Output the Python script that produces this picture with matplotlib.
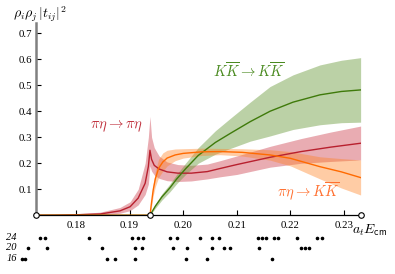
import matplotlib
matplotlib.use("Agg")
import matplotlib.pyplot as plt

plt.rcParams['font.family'] = ['Liberation Serif', 'DejaVu Serif']
plt.rcParams['mathtext.fontset'] = 'cm'

# energy window and K Kbar threshold
e_min, e_max = 0.17254, 0.23317
e_thr = 0.1938

# pi eta -> pi eta
red_E = [0.1726, 0.176, 0.180, 0.1845, 0.1882, 0.1901, 0.1916, 0.1929, 0.1935, 0.1938,
         0.1941, 0.1946, 0.1955, 0.197, 0.199, 0.2015, 0.2045, 0.2069, 0.210, 0.2162,
         0.222, 0.2275, 0.2331]
red_v = [0.0, 0.0005, 0.002, 0.005, 0.017, 0.033, 0.066, 0.123, 0.187, 0.250,
         0.215, 0.192, 0.178, 0.167, 0.162, 0.162, 0.168, 0.180, 0.195, 0.223,
         0.245, 0.262, 0.277]
red_lo = [0.0, 0.0, 0.0, 0.001, 0.008, 0.018, 0.040, 0.080, 0.120, 0.190,
          0.170, 0.155, 0.142, 0.133, 0.130, 0.132, 0.140, 0.148, 0.157, 0.185,
          0.200, 0.207, 0.213]
red_hi = [0.0, 0.002, 0.006, 0.012, 0.030, 0.052, 0.100, 0.200, 0.300, 0.380,
          0.300, 0.260, 0.228, 0.205, 0.195, 0.192, 0.197, 0.210, 0.228, 0.265,
          0.295, 0.320, 0.343]

# K Kbar -> K Kbar
green_E = [0.1726, 0.1938, 0.1948, 0.196, 0.1975, 0.1988, 0.2005, 0.2028, 0.206, 0.2088,
           0.2125, 0.2162, 0.2205, 0.2255, 0.2295, 0.2331]
green_v = [0.0, 0.0, 0.035, 0.070, 0.105, 0.140, 0.180, 0.230, 0.280, 0.315,
           0.360, 0.400, 0.435, 0.463, 0.476, 0.482]
green_lo = [0.0, 0.0, 0.027, 0.058, 0.090, 0.122, 0.158, 0.200, 0.235, 0.257,
            0.285, 0.305, 0.330, 0.348, 0.356, 0.358]
green_hi = [0.0, 0.0, 0.043, 0.082, 0.120, 0.158, 0.202, 0.260, 0.325, 0.373,
            0.435, 0.495, 0.540, 0.578, 0.596, 0.606]

# pi eta -> K Kbar
orange_E = [0.1726, 0.1938, 0.1941, 0.1944, 0.1948, 0.1954, 0.1962, 0.197, 0.1985, 0.2,
            0.2035, 0.2069, 0.211, 0.2162, 0.22, 0.2255, 0.2295, 0.2331]
orange_v = [0.0, 0.0, 0.050, 0.097, 0.140, 0.180, 0.205, 0.220, 0.232, 0.238,
            0.244, 0.245, 0.242, 0.232, 0.219, 0.187, 0.167, 0.145]
orange_lo = [0.0, 0.0, 0.035, 0.075, 0.110, 0.145, 0.170, 0.190, 0.210, 0.220,
             0.230, 0.233, 0.228, 0.212, 0.190, 0.140, 0.105, 0.078]
orange_hi = [0.0, 0.0, 0.065, 0.120, 0.170, 0.215, 0.240, 0.250, 0.255, 0.256,
             0.258, 0.257, 0.256, 0.252, 0.245, 0.225, 0.218, 0.213]

# finite-volume levels per lattice size L/a_s
levels = {
    '24': [0.17328, 0.17422, 0.18243, 0.19050, 0.19162, 0.19256, 0.19754, 0.19879, 0.20313,
           0.20532, 0.20659, 0.21396, 0.21470, 0.21545, 0.21694, 0.21769, 0.22118, 0.22491,
           0.22590],
    '20': [0.17099, 0.17451, 0.18479, 0.19101, 0.19226, 0.19815, 0.20076, 0.20541, 0.20765,
           0.20873, 0.21418, 0.22192, 0.22272, 0.22353],
    '16': [0.16987, 0.17054, 0.18573, 0.18728, 0.19101, 0.20058, 0.20439, 0.21660],
}

yticks = [0.1, 0.2, 0.3, 0.4, 0.5, 0.6, 0.7]
xticks = [0.18, 0.19, 0.20, 0.21, 0.22, 0.23]

fig = plt.figure(figsize=(3.95, 2.74), dpi=100)
ax = fig.add_axes([36 / 395, 1 - 215.3 / 274, 325 / 395, 192.5 / 274])

ax.fill_between(red_E, red_lo, red_hi, color='#c83040', alpha=0.4, lw=0)
ax.fill_between(green_E, green_lo, green_hi, color='#6a9a3a', alpha=0.45, lw=0)
ax.fill_between(orange_E, orange_lo, orange_hi, color='#ff8020', alpha=0.4, lw=0)
ax.plot(red_E, red_v, color='#b8202e', lw=1.0)
ax.plot(green_E, green_v, color='#3f7a0a', lw=1.0)
ax.plot(orange_E, orange_v, color='#ff6a00', lw=1.0)

ax.set_xlim(e_min, e_max)
ax.set_ylim(0, 0.74)
for s in ['top', 'right']:
    ax.spines[s].set_visible(False)
ax.spines['left'].set_color('#808080')
ax.spines['left'].set_linewidth(1.8)
ax.spines['bottom'].set_linewidth(0.9)
ax.set_yticks(yticks)
ax.set_yticklabels([f'{t:.1f}' for t in yticks])
ax.set_xticks(xticks)
ax.set_xticklabels([f'{t:.2f}' for t in xticks])
ax.tick_params(axis='both', direction='in', length=3.5, width=0.8, labelsize=7.8)
ax.tick_params(axis='x', pad=4)
ax.tick_params(axis='y', pad=3)

ax.plot([e_min, e_thr, e_max], [0, 0, 0], 'o', ms=4, mfc='white', mec='black', mew=0.8,
        clip_on=False, zorder=5)

ax.text(0.18756, 0.343, r'$\pi\eta \rightarrow \pi\eta$', color='#c0303c', fontsize=10.5,
        ha='center', va='center')
ax.text(0.21218, 0.555, r'$K\overline{K} \rightarrow K\overline{K}$', color='#4a8a20',
        fontsize=10.5, ha='center', va='center')
ax.text(0.22328, 0.088, r'$\pi\eta \rightarrow K\overline{K}$', color='#ff7030',
        fontsize=10.5, ha='center', va='center')

fig.text(40 / 395, 1 - 14 / 274, r'$\rho_i\rho_j\,|t_{ij}|^2$', fontsize=10,
         ha='center', va='center')
fig.text(370 / 395, 1 - 230 / 274, r'$a_t E_{\mathsf{cm}}$', fontsize=10,
         ha='center', va='center')

# level strip under the axis
ax2 = fig.add_axes([36 / 395, 1 - 264 / 274, 325 / 395, 32 / 274])
ax2.set_xlim(e_min, e_max)
ax2.set_ylim(0, 32)
ax2.axis('off')
row_y = {'24': 26.5, '20': 16, '16': 5.5}
for L, es in levels.items():
    ax2.plot(es, [row_y[L]] * len(es), 'o', ms=1.6, color='black', clip_on=False)
    ax2.text(e_min - 19 / 5360, row_y[L], L, fontsize=7.5, style='italic',
             ha='right', va='center')

fig.savefig('out.png', dpi=100)
